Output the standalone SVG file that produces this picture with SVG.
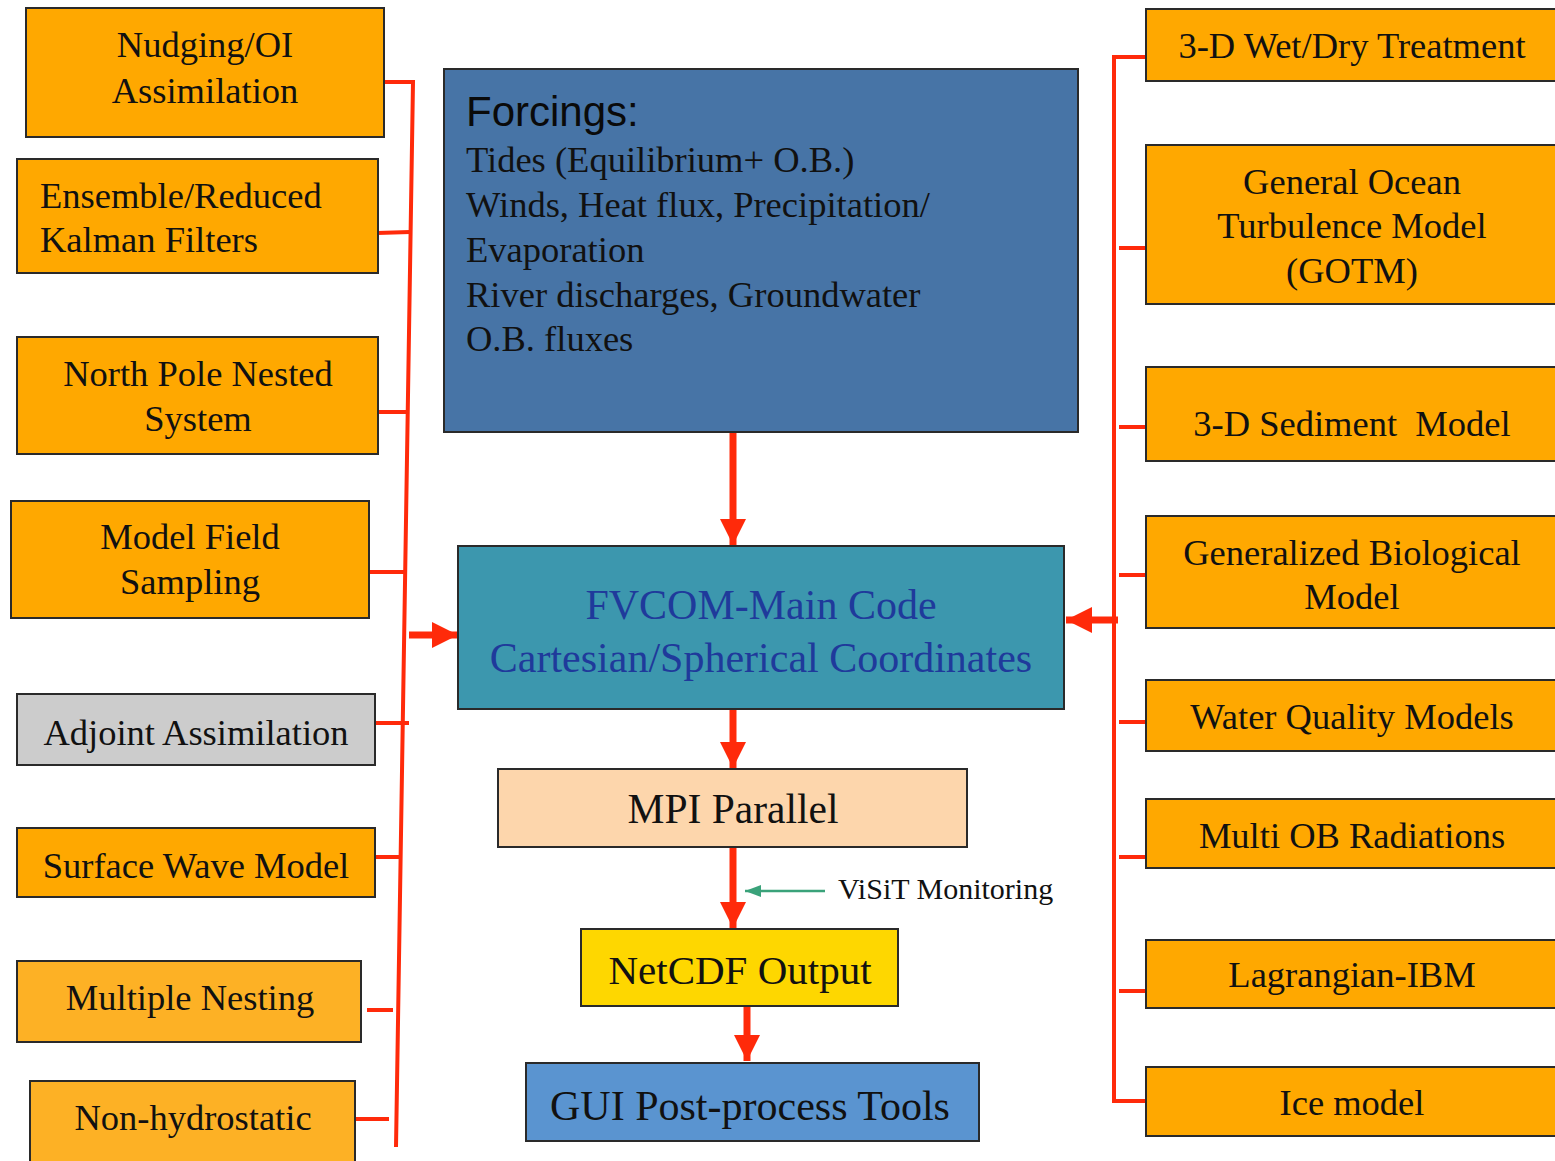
<svg xmlns="http://www.w3.org/2000/svg" width="1555" height="1161" viewBox="0 0 1555 1161">
<defs>
<style>
.box{stroke:#2a2a2a;stroke-width:2}
.org{fill:#FFA800}
.org2{fill:#FDB125}
.t{font-family:"Liberation Serif","Times New Roman",serif;font-size:36.5px;fill:#111;text-anchor:middle}
.tl{font-family:"Liberation Serif","Times New Roman",serif;font-size:36.5px;fill:#111}
.red{stroke:#FF2A0A;stroke-width:4;fill:none}
.redw{stroke:#FF2A0A;stroke-width:7;fill:none}
</style>
<marker id="ah" markerUnits="userSpaceOnUse" markerWidth="28" markerHeight="28" refX="26" refY="13" orient="auto">
<path d="M0,0 L26,13 L0,26 Z" fill="#FF2A0A"/>
</marker>
<marker id="ahg" markerUnits="userSpaceOnUse" markerWidth="16" markerHeight="12" refX="16" refY="6" orient="auto">
<path d="M0,0 L16,6 L0,12 Z" fill="#3AA27A"/>
</marker>
</defs>
<rect width="1555" height="1161" fill="#fff"/>

<g id="connectors">
<path class="red" d="M380,82 H413 L396,1147"/>
<line class="red" x1="377" y1="233" x2="410" y2="232"/>
<line class="red" x1="377" y1="412" x2="409" y2="412"/>
<line class="red" x1="370" y1="572" x2="406" y2="572"/>
<line class="red" x1="375" y1="723" x2="409" y2="723"/>
<line class="red" x1="375" y1="857" x2="402" y2="857"/>
<line class="red" x1="367" y1="1010" x2="393" y2="1010"/>
<line class="red" x1="356" y1="1119" x2="389" y2="1119"/>
<line class="redw" x1="409" y1="635" x2="458" y2="635" marker-end="url(#ah)"/>

<path class="red" d="M1146,57 H1114 V1101 H1146"/>
<line class="red" x1="1119" y1="248" x2="1146" y2="248"/>
<line class="red" x1="1119" y1="427" x2="1146" y2="427"/>
<line class="red" x1="1119" y1="575" x2="1146" y2="575"/>
<line class="red" x1="1119" y1="722" x2="1146" y2="722"/>
<line class="red" x1="1119" y1="857" x2="1146" y2="857"/>
<line class="red" x1="1119" y1="991" x2="1146" y2="991"/>
<line class="redw" x1="1118" y1="620" x2="1066" y2="620" marker-end="url(#ah)"/>

<line class="redw" x1="733" y1="428" x2="733" y2="545" marker-end="url(#ah)"/>
<line class="redw" x1="733" y1="709" x2="733" y2="768" marker-end="url(#ah)"/>
<line class="redw" x1="733" y1="845" x2="733" y2="928" marker-end="url(#ah)"/>
<line class="redw" x1="747" y1="1005" x2="747" y2="1061" marker-end="url(#ah)"/>
<line x1="825" y1="891" x2="745" y2="891" stroke="#3AA27A" stroke-width="2.5" marker-end="url(#ahg)"/>
<text x="838" y="899" font-family="Liberation Serif,Times New Roman,serif" font-size="30" fill="#111">ViSiT Monitoring</text>
</g>

<g id="n-nudging"><rect class="box org" x="26" y="8" width="358" height="129"/><text class="t" x="205" y="57">Nudging/OI</text><text class="t" x="205" y="103">Assimilation</text></g>
<g id="n-ensemble"><rect class="box org" x="17" y="159" width="361" height="114"/><text class="tl" x="40" y="208">Ensemble/Reduced</text><text class="tl" x="40" y="252">Kalman Filters</text></g>
<g id="n-northpole"><rect class="box org" x="17" y="337" width="361" height="117"/><text class="t" x="198" y="386">North Pole Nested</text><text class="t" x="198" y="431">System</text></g>
<g id="n-sampling"><rect class="box org" x="11" y="501" width="358" height="117"/><text class="t" x="190" y="549">Model Field</text><text class="t" x="190" y="594">Sampling</text></g>
<g id="n-adjoint"><rect class="box" fill="#CCCCCC" x="17" y="694" width="358" height="71"/><text class="t" x="196" y="745">Adjoint Assimilation</text></g>
<g id="n-wave"><rect class="box org" x="17" y="828" width="358" height="69"/><text class="t" x="196" y="878">Surface Wave Model</text></g>
<g id="n-nesting"><rect class="box org2" x="17" y="961" width="344" height="81"/><text class="t" x="190" y="1010">Multiple Nesting</text></g>
<g id="n-nonhydro"><rect class="box org2" x="30" y="1081" width="325" height="90"/><text class="t" x="193" y="1130">Non-hydrostatic</text></g>

<g id="n-forcings"><rect class="box" fill="#4774A6" x="444" y="69" width="634" height="363"/>
<text x="466" y="126" font-family="Liberation Sans,Arial,sans-serif" font-size="42" fill="#0a0a0a">Forcings:</text>
<text class="tl" x="466" y="172">Tides (Equilibrium+ O.B.)</text>
<text class="tl" x="466" y="217">Winds, Heat flux, Precipitation/</text>
<text class="tl" x="466" y="262">Evaporation</text>
<text class="tl" x="466" y="307">River discharges, Groundwater</text>
<text class="tl" x="466" y="351">O.B. fluxes</text></g>
<g id="n-fvcom"><rect class="box" fill="#3C97AE" x="458" y="546" width="606" height="163"/>
<text class="t" x="761" y="619" style="fill:#1F3A9B;font-size:42px">FVCOM-Main Code</text>
<text class="t" x="761" y="672" style="fill:#1F3A9B;font-size:42px">Cartesian/Spherical Coordinates</text></g>
<g id="n-mpi"><rect class="box" fill="#FDD6AC" x="498" y="769" width="469" height="78"/><text class="t" x="733" y="823" style="font-size:41.5px">MPI Parallel</text></g>
<g id="n-netcdf"><rect class="box" fill="#FED700" x="581" y="929" width="317" height="77"/><text class="t" x="740" y="984" style="font-size:41px">NetCDF Output</text></g>
<g id="n-gui"><rect class="box" fill="#5A94D0" x="526" y="1063" width="453" height="78"/><text class="t" x="750" y="1120" style="font-size:42px">GUI Post-process Tools</text></g>

<g id="n-wetdry"><rect class="box org" x="1146" y="9" width="420" height="72"/><text class="t" x="1352" y="58">3-D Wet/Dry Treatment</text></g>
<g id="n-gotm"><rect class="box org" x="1146" y="145" width="420" height="159"/><text class="t" x="1352" y="194">General Ocean</text><text class="t" x="1352" y="238">Turbulence Model</text><text class="t" x="1352" y="283">(GOTM)</text></g>
<g id="n-sediment"><rect class="box org" x="1146" y="367" width="420" height="94"/><text class="t" x="1352" y="436" xml:space="preserve">3-D Sediment  Model</text></g>
<g id="n-bio"><rect class="box org" x="1146" y="516" width="420" height="112"/><text class="t" x="1352" y="565">Generalized Biological</text><text class="t" x="1352" y="609">Model</text></g>
<g id="n-wq"><rect class="box org" x="1146" y="680" width="420" height="71"/><text class="t" x="1352" y="729">Water Quality Models</text></g>
<g id="n-ob"><rect class="box org" x="1146" y="799" width="420" height="69"/><text class="t" x="1352" y="848">Multi OB Radiations</text></g>
<g id="n-lagr"><rect class="box org" x="1146" y="940" width="420" height="68"/><text class="t" x="1352" y="987">Lagrangian-IBM</text></g>
<g id="n-ice"><rect class="box org" x="1146" y="1067" width="420" height="69"/><text class="t" x="1352" y="1115">Ice model</text></g>
</svg>
